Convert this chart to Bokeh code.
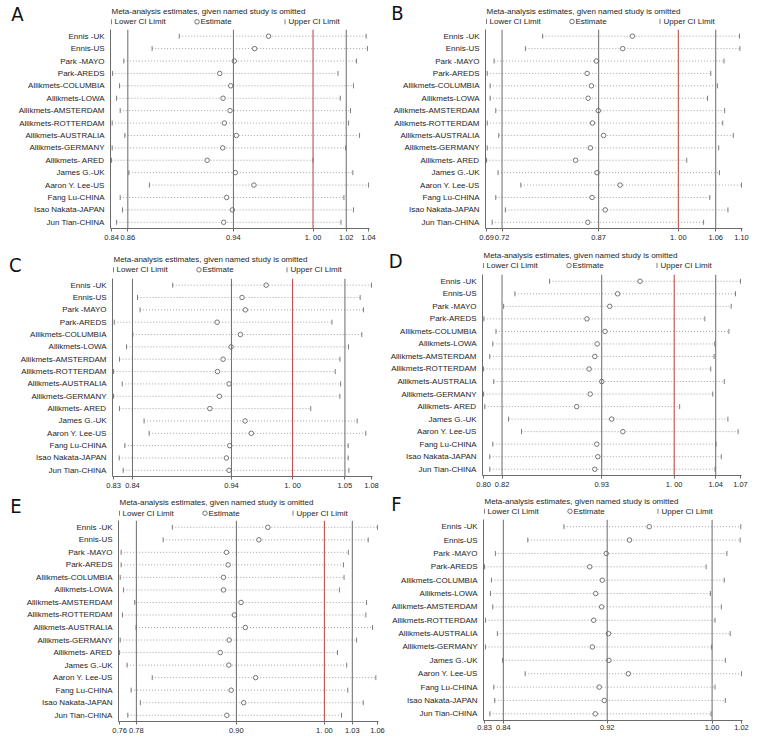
import numpy as np
from bokeh.plotting import figure
from bokeh.models import Range1d, FixedTicker, Span, CustomJSTickFormatter
from bokeh.layouts import column, row
from bokeh.core.properties import value
from bokeh.embed import file_html
from bokeh.resources import INLINE

# ---------------- data ----------------
studies = ["Ennis -UK", "Ennis-US", "Park -MAYO", "Park-AREDS", "Allikmets-COLUMBIA",
           "Allikmets-LOWA", "Allikmets-AMSTERDAM", "Allikmets-ROTTERDAM",
           "Allikmets-AUSTRALIA", "Allikmets-GERMANY", "Allikmets- ARED", "James G.-UK",
           "Aaron Y. Lee-US", "Fang Lu-CHINA", "Isao Nakata-JAPAN", "Jun Tian-CHINA"]
studies_f = ["Ennis -UK", "Ennis-US", "Park -MAYO", "Park-AREDS", "Allikmets-COLUMBIA",
             "Allikmets-LOWA", "Allikmets-AMSTERDAM", "Allikmets-ROTTERDAM",
             "Allikmets-AUSTRALIA", "Allikmets-GERMANY", "James G.-UK",
             "Aaron Y. Lee-US", "Fang Lu-CHINA", "Isao Nakata-JAPAN", "Jun Tian-CHINA"]

a_lower = [0.8965, 0.8755, 0.8536, 0.8449, 0.8503, 0.8480, 0.8508, 0.8446, 0.8544, 0.8446, 0.8441, 0.8575, 0.8734, 0.8508, 0.8526, 0.8480]
a_est = [0.9656, 0.9548, 0.9391, 0.9278, 0.9363, 0.9304, 0.9358, 0.9314, 0.9407, 0.9301, 0.9181, 0.9399, 0.9543, 0.9332, 0.9376, 0.9309]
a_upper = [1.0411, 1.0421, 1.0336, 1.0193, 1.0313, 1.0211, 1.0290, 1.0275, 1.0360, 1.0252, 1.0000, 1.0308, 1.0429, 1.0239, 1.0313, 1.0216]
a_overall = [0.8567, 0.9384, 1.0257]
a_ticklabels = ["0.84", "0.86", "0.94", "1. 00", "1.02", "1.04"]

b_lower = [0.7823, 0.7547, 0.7045, 0.6934, 0.6981, 0.6981, 0.7071, 0.6934, 0.7119, 0.6934, 0.6923, 0.7108, 0.7473, 0.7071, 0.7225, 0.7013]
b_est = [0.9262, 0.9108, 0.8685, 0.8537, 0.8606, 0.8553, 0.8717, 0.8622, 0.8801, 0.8590, 0.8352, 0.8696, 0.9066, 0.8616, 0.8828, 0.8548]
b_upper = [1.0981, 1.0987, 1.0733, 1.0521, 1.0627, 1.0468, 1.0743, 1.0712, 1.0881, 1.0648, 1.0135, 1.0659, 1.1013, 1.0505, 1.0796, 1.0405]
b_overall = [0.7172, 0.8722, 1.0600]
b_ticklabels = ["0.69", "0.72", "0.87", "1. 00", "1.06", "1.10"]

c_lower = [0.8835, 0.8493, 0.8518, 0.8267, 0.8447, 0.8386, 0.8318, 0.8260, 0.8344, 0.8260, 0.8318, 0.8557, 0.8606, 0.8370, 0.8315, 0.8354]
c_est = [0.9744, 0.9509, 0.9541, 0.9267, 0.9493, 0.9402, 0.9325, 0.9270, 0.9383, 0.9289, 0.9196, 0.9538, 0.9599, 0.9389, 0.9357, 0.9383]
c_upper = [1.0767, 1.0657, 1.0689, 1.0383, 1.0673, 1.0544, 1.0460, 1.0415, 1.0467, 1.0460, 1.0177, 1.0628, 1.0712, 1.0541, 1.0541, 1.0547]
c_overall = [0.8444, 0.9406, 1.0509]
c_ticklabels = ["0.83", "0.84", "0.94", "1. 00", "1.05", "1.08"]

d_lower = [0.8721, 0.8365, 0.8249, 0.8046, 0.8171, 0.8138, 0.8107, 0.8043, 0.8148, 0.8043, 0.8056, 0.8300, 0.8433, 0.8138, 0.8107, 0.8107]
d_est = [0.9649, 0.9419, 0.9338, 0.9104, 0.9290, 0.9209, 0.9185, 0.9127, 0.9256, 0.9138, 0.8999, 0.9358, 0.9473, 0.9205, 0.9216, 0.9185]
d_upper = [1.0680, 1.0629, 1.0585, 1.0314, 1.0561, 1.0416, 1.0409, 1.0375, 1.0514, 1.0395, 1.0056, 1.0551, 1.0656, 1.0429, 1.0483, 1.0419]
d_overall = [0.8233, 0.9256, 1.0426]
d_ticklabels = ["0.80", "0.82", "0.93", "1. 00", "1.04", "1.07"]

e_lower = [0.8229, 0.8122, 0.7633, 0.7633, 0.7622, 0.7660, 0.7791, 0.7648, 0.7806, 0.7622, 0.7614, 0.7702, 0.7995, 0.7749, 0.7856, 0.7710]
e_est = [0.9341, 0.9237, 0.8860, 0.8879, 0.8825, 0.8825, 0.9029, 0.8952, 0.9079, 0.8891, 0.8787, 0.8887, 0.9199, 0.8914, 0.9060, 0.8864]
e_upper = [1.0618, 1.0510, 1.0279, 1.0222, 1.0229, 1.0175, 1.0491, 1.0483, 1.0560, 1.0375, 1.0152, 1.0260, 1.0599, 1.0272, 1.0452, 1.0199]
e_overall = [0.7810, 0.8975, 1.0325]
e_ticklabels = ["0.76", "0.78", "0.90", "1. 00", "1.03", "1.06"]

f_lower = [0.8878, 0.8605, 0.8360, 0.8278, 0.8330, 0.8323, 0.8340, 0.8285, 0.8375, 0.8285, 0.8415, 0.8585, 0.8348, 0.8355, 0.8318]
f_est = [0.9523, 0.9373, 0.9198, 0.9073, 0.9168, 0.9118, 0.9163, 0.9103, 0.9215, 0.9093, 0.9218, 0.9365, 0.9145, 0.9183, 0.9115]
f_upper = [1.0215, 1.0210, 1.0110, 0.9953, 1.0090, 0.9985, 1.0068, 1.0020, 1.0135, 0.9995, 1.0098, 1.0220, 1.0020, 1.0098, 0.9990]
f_overall = [0.8420, 0.9205, 0.9998]
f_ticklabels = ["0.83", "0.84", "0.92", "1.00", "1.02"]

null_value = 1.0
title_text = "Meta-analysis estimates, given named study is omitted"
legend_texts = ["Lower CI Limit", "Estimate", "Upper CI Limit"]

# ---------------- style ----------------
FONT = "Liberation Sans"
LETTER_FONT = "Liberation Sans Narrow, DejaVu Sans Condensed, Liberation Sans"
TXT = "#1e1e1e"
VLINE = "#6b6b6b"
DOT = "#9a9a9a"
MARK = "#707070"
RED = "#c0504d"


def make_header(letter, W, hH, bl, br, title_y, legend_y, letter_y, letter_standoff):
    fw = W - bl - br
    h = figure(width=W, height=hH, output_backend="svg", toolbar_location=None,
               title=None, x_axis_location=None, y_axis_location="left",
               x_range=Range1d(0, fw), y_range=Range1d(hH, 0),
               min_border_left=bl, min_border_right=br, min_border_top=0, min_border_bottom=0)
    h.outline_line_color = None
    h.grid.visible = False
    h.text(x=[1, 4, 90, 178],
           y=[title_y, legend_y, legend_y, legend_y],
           text=[title_text] + legend_texts,
           text_font=value(FONT), text_font_size="8px", text_color=TXT,
           text_baseline="middle", text_align="left")
    h.scatter(x=[1, 174.5], y=[legend_y, legend_y], marker="dash",
              angle=np.pi / 2, size=5, line_color=MARK, line_width=0.9)
    h.scatter(x=[86.5], y=[legend_y], marker="circle", size=4.5,
              line_color="#666666", fill_color="white", line_width=0.9)
    # panel letter as the single tick label of the header's left axis
    ax = h.yaxis[0]
    ax.ticker = FixedTicker(ticks=[letter_y])
    ax.formatter = CustomJSTickFormatter(args=dict(L=letter), code="return L;")
    ax.axis_line_color = None
    ax.major_tick_line_color = None
    ax.minor_tick_line_color = None
    ax.major_tick_out = 0
    ax.major_tick_in = 0
    ax.major_label_standoff = letter_standoff
    ax.major_label_text_font = LETTER_FONT
    ax.major_label_text_font_size = "20px"
    ax.major_label_text_color = "#111111"
    return h


def make_main(names, lower, est, upper, overall, ticklabels, show_null, W, H, bl, br, bb):
    n = len(names)
    rows_y = list(range(1, n + 1))
    xs, xe = min(lower), max(upper)
    pad = (xe - xs) * 0.004
    p = figure(width=W, height=H, output_backend="svg", toolbar_location=None,
               title=None, x_range=Range1d(xs - pad, xe + pad),
               y_range=Range1d(n + 0.5, 0.46),
               min_border_left=bl, min_border_right=br,
               min_border_top=0, min_border_bottom=bb)
    p.outline_line_color = None
    p.grid.visible = False

    for v in overall:
        p.add_layout(Span(location=v, dimension="height", line_color=VLINE, line_width=1))
    if show_null:
        p.add_layout(Span(location=null_value, dimension="height", line_color=RED, line_width=1.1))

    p.segment(x0=lower, y0=rows_y, x1=upper, y1=rows_y, line_color=DOT,
              line_width=0.9, line_dash="1 2")
    p.scatter(x=lower, y=rows_y, marker="dash", angle=np.pi / 2, size=5,
              line_color=MARK, line_width=0.9)
    p.scatter(x=upper, y=rows_y, marker="dash", angle=np.pi / 2, size=5,
              line_color=MARK, line_width=0.9)
    p.scatter(x=est, y=rows_y, marker="circle", size=4.5, line_color="#666666",
              fill_color="white", line_width=0.9)

    if show_null:
        ticks = [xs, overall[0], overall[1], null_value, overall[2], xe]
    else:
        ticks = [xs, overall[0], overall[1], overall[2], xe]
    p.xaxis.ticker = FixedTicker(ticks=ticks)
    p.xaxis.formatter = CustomJSTickFormatter(args=dict(t=ticks, l=ticklabels), code="""
        let b = 0;
        for (let i = 0; i < t.length; i++) {
            if (Math.abs(t[i] - tick) < Math.abs(t[b] - tick)) { b = i; }
        }
        return l[b];
    """)
    p.xaxis.minor_tick_line_color = None
    p.xaxis.major_tick_out = 3
    p.xaxis.major_tick_in = 0
    p.xaxis.major_tick_line_color = VLINE
    p.xaxis.axis_line_color = VLINE
    p.xaxis.major_label_standoff = 1
    p.xaxis.major_label_text_font = FONT
    p.xaxis.major_label_text_font_size = "7.5px"
    p.xaxis.major_label_text_color = TXT

    p.yaxis.ticker = FixedTicker(ticks=rows_y)
    p.yaxis.major_label_overrides = {i + 1: nm for i, nm in enumerate(names)}
    p.yaxis.minor_tick_line_color = None
    p.yaxis.major_tick_line_color = None
    p.yaxis.major_tick_out = 0
    p.yaxis.major_tick_in = 0
    p.yaxis.axis_line_color = VLINE
    p.yaxis.major_label_standoff = 6
    p.yaxis.major_label_text_font = FONT
    p.yaxis.major_label_text_font_size = "8px"
    p.yaxis.major_label_text_color = TXT
    return p


def make_panel(letter, names, lower, est, upper, overall, ticklabels, show_null,
               W, hH, mH, bl, br, bb, title_y, legend_y, letter_y, letter_standoff):
    head = make_header(letter, W, hH, bl, br, title_y, legend_y, letter_y, letter_standoff)
    main = make_main(names, lower, est, upper, overall, ticklabels, show_null,
                     W, mH, bl, br, bb)
    return column(head, main)


pA = make_panel("A", studies, a_lower, a_est, a_upper, a_overall, a_ticklabels, True,
                385, 29, 215, 110, 16, 15, 10.7, 21.3, 13.7, 87)
pB = make_panel("B", studies, b_lower, b_est, b_upper, b_overall, b_ticklabels, True,
                370, 29, 215, 100, 13, 15, 10.7, 21.0, 11.5, 82)
pC = make_panel("C", studies, c_lower, c_est, c_upper, c_overall, c_ticklabels, True,
                385, 34, 214, 112, 13, 13, 15.0, 25.3, 20.2, 91)
pD = make_panel("D", studies, d_lower, d_est, d_upper, d_overall, d_ticklabels, True,
                370, 30, 218, 97, 14, 17, 11.0, 21.0, 16.0, 80)
pE = make_panel("E", studies, e_lower, e_est, e_upper, e_overall, e_ticklabels, True,
                385, 28, 218, 118, 7, 17, 9.7, 20.7, 18.8, 97)
pF = make_panel("F", studies_f, f_lower, f_est, f_upper, f_overall, f_ticklabels, False,
                370, 27, 219, 98, 13, 18, 8.7, 18.7, 18.3, 82)

layout = column(row(pA, pB), row(pC, pD), row(pE, pF))
open("out.html", "w").write(file_html(layout, INLINE))
